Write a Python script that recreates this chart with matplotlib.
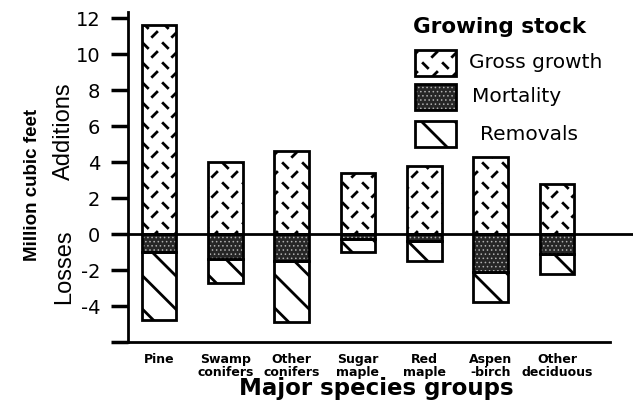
import numpy as np
import matplotlib
matplotlib.use("Agg")
import matplotlib.pyplot as plt
from matplotlib import hatch as mhatch
from matplotlib.path import Path
from matplotlib.patches import Rectangle


species = ["Pine", "Swamp\nconifers", "Other\nconifers", "Sugar\nmaple",
           "Red\nmaple", "Aspen\n-birch", "Other\ndeciduous"]
gross_growth = [11.6, 4.0, 4.6, 3.4, 3.8, 4.3, 2.8]
mortality = [1.0, 1.4, 1.5, 0.3, 0.4, 2.1, 1.1]
removals = [3.8, 1.3, 3.4, 0.7, 1.1, 1.7, 1.1]
y_ticks = [-6, -4, -2, 0, 2, 4, 6, 8, 10, 12]
y_tick_labels = ["", "-4", "-2", "0", "2", "4", "6", "8", "10", "12"]
legend_labels = ["Gross growth", "Mortality", "Removals"]


class DashHatch(mhatch.HatchPatternBase):
    # short "\" and "/" dashes, used for the '*' hatch character
    def __init__(self, hatch, density):
        self.num_cells = 5 if "*" in hatch else 0
        self.num_vertices = self.num_cells ** 2 * 4

    def set_vertices_and_codes(self, vertices, codes):
        n = self.num_cells
        step = 1.0 / n
        d = 0.023
        k = 0
        for i in range(n):
            for j in range(n):
                x0, y0 = i * step, j * step
                cx, cy = x0 + 0.27 * step, y0 + 0.72 * step
                vertices[k] = (cx - d, cy + d)
                vertices[k + 1] = (cx + d, cy - d)
                cx, cy = x0 + 0.73 * step, y0 + 0.28 * step
                vertices[k + 2] = (cx - d, cy - d)
                vertices[k + 3] = (cx + d, cy + d)
                k += 4
        codes[0::2] = Path.MOVETO
        codes[1::2] = Path.LINETO


mhatch._hatch_types = [t for t in mhatch._hatch_types if t is not mhatch.Stars] + [DashHatch]

plt.rcParams["font.family"] = ["DejaVu Sans"]
plt.rcParams["axes.unicode_minus"] = False
plt.rcParams["hatch.linewidth"] = 2.0
plt.rcParams["hatch.color"] = "black"
narrow = ["Liberation Sans", "DejaVu Sans"]

W, H = 633, 405
fig = plt.figure(figsize=(W / 100, H / 100), dpi=100)
ax = fig.add_axes([128 / W, 1 - 342 / H, (610 - 128) / W, (342 - 12) / H])

x = np.arange(len(species))
neg_mort = -np.array(mortality)
neg_rem = -np.array(removals)
width = 0.52

ax.bar(x, gross_growth, width, color="white", edgecolor="black", linewidth=2, hatch="*", zorder=2)
ax.bar(x, neg_mort, width, color="#262626", edgecolor="none", zorder=2)
with plt.rc_context({"hatch.linewidth": 0.6}):
    ax.bar(x, neg_mort, width, color="none", edgecolor="#b0b0b0", linewidth=0, hatch="....", zorder=3)
ax.bar(x, neg_mort, width, color="none", edgecolor="black", linewidth=2, zorder=4)
ax.bar(x, neg_rem, width, bottom=neg_mort, color="white", edgecolor="black", linewidth=2,
       hatch="\\", zorder=2)

ax.axhline(0, xmin=-0.02, xmax=1.06, color="black", linewidth=2, clip_on=False, zorder=5)

ax.set_xlim(-0.468, 6.8)
ax.set_ylim(-6, 12.35)
ax.set_yticks(y_ticks)
ax.set_yticklabels(y_tick_labels, fontsize=14)
ax.set_xticks(x)
ax.set_xticklabels(species, fontsize=9, fontweight="bold", linespacing=0.95)
ax.tick_params(axis="y", length=12, width=2.5, pad=8)
ax.tick_params(axis="x", length=0, pad=8)
for side in ["top", "right"]:
    ax.spines[side].set_visible(False)
for side in ["left", "bottom"]:
    ax.spines[side].set_linewidth(2)

fig.text(376 / W, 1 - 388 / H, "Major species groups", fontsize=16.5, fontweight="bold",
         ha="center", va="center")
fig.text(33 / W, 1 - 185 / H, "Million cubic feet", rotation=90, fontsize=13.5,
         fontweight="bold", ha="center", va="center", family=narrow)
fig.text(64 / W, 1 - 131 / H, "Additions", rotation=90, fontsize=17, ha="center", va="center",
         family=narrow)
fig.text(64 / W, 1 - 267 / H, "Losses", rotation=90, fontsize=17, ha="center", va="center",
         family=narrow)

# legend
fig.text(413 / W, 1 - 27 / H, "Growing stock", fontsize=15.5, fontweight="bold", va="center")
box_tops = [50, 84, 121]
text_x = [469, 472, 480]
for i, label in enumerate(legend_labels):
    y0 = 1 - (box_tops[i] + 26) / H
    kw = dict(transform=fig.transFigure, figure=fig)
    if i == 0:
        fig.add_artist(Rectangle((415 / W, y0), 41 / W, 26 / H, facecolor="white",
                                 edgecolor="black", linewidth=2, hatch="*", **kw))
    elif i == 1:
        fig.add_artist(Rectangle((415 / W, y0), 41 / W, 26 / H, facecolor="#262626",
                                 edgecolor="none", **kw))
        with plt.rc_context({"hatch.linewidth": 0.6}):
            fig.add_artist(Rectangle((415 / W, y0), 41 / W, 26 / H, facecolor="none",
                                     edgecolor="#b0b0b0", linewidth=0, hatch="....", **kw))
        fig.add_artist(Rectangle((415 / W, y0), 41 / W, 26 / H, facecolor="none",
                                 edgecolor="black", linewidth=2, **kw))
    else:
        fig.add_artist(Rectangle((415 / W, y0), 41 / W, 26 / H, facecolor="white",
                                 edgecolor="black", linewidth=2, hatch="\\", **kw))
    fig.text(text_x[i] / W, 1 - (box_tops[i] + 13) / H, label, fontsize=14.5, va="center")

fig.savefig("out.png", dpi=100)
